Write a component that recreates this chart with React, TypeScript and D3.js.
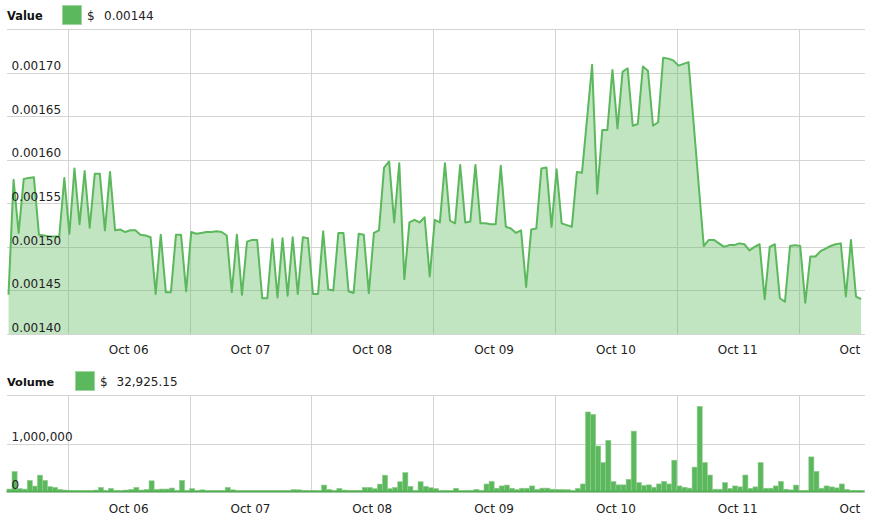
import React from "react";
import * as d3 from "d3";

// ---- data ----
const START_UTC = Date.UTC(2019, 9, 5, 0, 19);
const HOUR_MS = 3600000;

const priceValues = [
  0.001445, 0.001577, 0.001516, 0.001578, 0.001579, 0.00158, 0.001514, 0.001513, 0.001512, 0.001512,
  0.001512, 0.001579, 0.001515, 0.00159, 0.001526, 0.001587, 0.001522, 0.001584, 0.001584, 0.001519,
  0.001586, 0.001519, 0.00152, 0.001517, 0.001519, 0.001519, 0.001514, 0.001513, 0.001511, 0.001446,
  0.001514, 0.001448, 0.001448, 0.001514, 0.001514, 0.001449, 0.001517, 0.001515, 0.001516, 0.001517,
  0.001517, 0.001518, 0.001517, 0.001513, 0.001448, 0.001514, 0.001445, 0.001506, 0.001508, 0.001508,
  0.001441, 0.001441, 0.001509, 0.001442, 0.00151, 0.001444, 0.001511, 0.001446, 0.001511, 0.00151,
  0.001446, 0.001446, 0.001518, 0.001451, 0.00145, 0.001516, 0.001516, 0.001449, 0.001447, 0.001515,
  0.001514, 0.001447, 0.001516, 0.001519, 0.001591, 0.001598, 0.001528, 0.001596, 0.001463, 0.001528,
  0.001531, 0.001528, 0.001534, 0.001466, 0.001531, 0.001528, 0.001596, 0.00153, 0.001527, 0.001594,
  0.001528, 0.001529, 0.001594, 0.001527, 0.001527, 0.001526, 0.001526, 0.001593, 0.001523, 0.001521,
  0.001516, 0.001519, 0.001454, 0.00152, 0.001521, 0.00159, 0.001591, 0.001523, 0.001589, 0.001527,
  0.001525, 0.001523, 0.001586, 0.001585, 0.001647, 0.001709, 0.001561, 0.001634, 0.001634, 0.001703,
  0.001636, 0.001701, 0.001705, 0.001639, 0.001641, 0.001707, 0.001702, 0.001639, 0.001643, 0.001717,
  0.001716, 0.001714, 0.001708, 0.00171, 0.001712, 0.001642, 0.001571, 0.001501, 0.001508, 0.001508,
  0.001504, 0.0015, 0.001502, 0.001502, 0.001504, 0.001503, 0.001496, 0.0015, 0.001503, 0.00144,
  0.0015, 0.001503, 0.001441, 0.001437, 0.001501, 0.001502, 0.001501, 0.001436, 0.001489, 0.001489,
  0.001495, 0.001498, 0.001501, 0.001503, 0.001504, 0.001443, 0.001508, 0.001443, 0.00144,
];

const volumeValues = [
  61000, 422000, 70000, 60000, 239000, 122000, 347000, 239000, 109000, 95000,
  54000, 40000, 35000, 25000, 10000, 30000, 30000, 40000, 95000, 10000,
  75000, 10000, 15000, 40000, 54000, 95000, 40000, 54000, 231000, 54000,
  61000, 61000, 82000, 10000, 239000, 15000, 70000, 10000, 45000, 30000,
  30000, 30000, 15000, 95000, 45000, 15000, 10000, 12000, 10000, 8000,
  10000, 15000, 30000, 30000, 30000, 30000, 50000, 45000, 35000, 30000,
  35000, 30000, 143000, 54000, 20000, 75000, 40000, 35000, 35000, 35000,
  95000, 95000, 68000, 163000, 347000, 68000, 95000, 211000, 401000, 116000,
  10000, 211000, 116000, 88000, 70000, 30000, 20000, 5000, 78000, 30000,
  30000, 34000, 54000, 25000, 165000, 218000, 78000, 125000, 143000, 78000,
  50000, 78000, 78000, 125000, 54000, 80000, 80000, 58000, 55000, 52000,
  48000, 12000, 75000, 166000, 1650000, 1600000, 948000, 608000, 1065000, 215000,
  147000, 147000, 262000, 1255000, 194000, 136000, 147000, 98000, 166000, 218000,
  166000, 656000, 125000, 98000, 80000, 513000, 1765000, 608000, 350000, 58000,
  58000, 194000, 75000, 125000, 105000, 350000, 75000, 105000, 608000, 78000,
  78000, 125000, 218000, 58000, 44000, 143000, 27000, 27000, 724000, 425000,
  78000, 125000, 105000, 85000, 166000, 54000, 31000, 31000, 32925.15,
];

const priceTicks = [0.0014, 0.00145, 0.0015, 0.00155, 0.0016, 0.00165, 0.0017, 0.00175];
const priceLabelTicks = [0.0014, 0.00145, 0.0015, 0.00155, 0.0016, 0.00165, 0.0017];
const volumeTicks = [0, 1000000, 2000000];
const volumeLabelTicks = [0, 1000000];
const dayLabelDates = [6, 7, 8, 9, 10, 11, 12].map((d) => new Date(Date.UTC(2019, 9, d)));
const dayGridDates = [5, 6, 7, 8, 9, 10, 11].map((d) => new Date(Date.UTC(2019, 9, d, 12)));

const priceLegend = "0.00144";
const volumeLegend = "32,925.15";

// ---- styling ----
const GREEN = "#5cb85c";
const GRID = "#d4d4d4";
const TEXT = "#222";
const FONT = "DejaVu Sans, Verdana, sans-serif";

export default function App() {
  const times = priceValues.map((_, i) => new Date(START_UTC + i * HOUR_MS));
  const x = d3
    .scaleUtc()
    .domain([times[0], times[times.length - 1]])
    .range([8.5, 861.1]);
  const hourPx = x(new Date(START_UTC + HOUR_MS)) - x(times[0]);

  const yP = d3.scaleLinear().domain([0.0014, 0.00175]).range([334, 29]);
  const yV = d3.scaleLinear().domain([0, 2000000]).range([492, 395]);

  const line = d3
    .line<number>()
    .x((_, i) => x(times[i]))
    .y((d) => yP(d));
  const area = d3
    .area<number>()
    .x((_, i) => x(times[i]))
    .y0(yP(0.0014))
    .y1((d) => yP(d));

  const fmtDay = d3.utcFormat("%b %d");
  const fmtP = d3.format(".5f");
  const fmtV = d3.format(",");
  const crisp = (v: number) => Math.round(v) + 0.5;

  const gridLeft = 7;
  const gridRight = 865;

  return (
    <svg
      width={875}
      height={520}
      style={{ position: "absolute", left: 0, top: 0, background: "#fff" }}
      fontFamily={FONT}
    >
      <defs>
        <clipPath id="plotClip">
          <rect x={7} y={28} width={856} height={310} />
        </clipPath>
        <clipPath id="labelClip">
          <rect x={0} y={0} width={862} height={520} />
        </clipPath>
      </defs>

      {/* ===== Value header ===== */}
      <text x={7} y={20} fontSize={11.4} fontWeight="bold" fill="#111">
        Value
      </text>
      <rect x={62.5} y={5.5} width={19} height={19} fill={GREEN} stroke="#9fd59f" strokeWidth={1} />
      <text x={87} y={20} fontSize={12} fill={TEXT}>
        $
      </text>
      <text x={104} y={20} fontSize={12} fill={TEXT}>
        {priceLegend}
      </text>

      {/* price grid */}
      {priceTicks.map((t) => (
        <line key={"hp" + t} x1={gridLeft} x2={gridRight} y1={crisp(yP(t))} y2={crisp(yP(t))} stroke={GRID} />
      ))}
      {dayGridDates.map((d) => (
        <line key={"vp" + d.getTime()} x1={crisp(x(d))} x2={crisp(x(d))} y1={29} y2={334} stroke={GRID} />
      ))}

      {/* price area + line */}
      <g clipPath="url(#plotClip)">
        <path d={area(priceValues) || ""} fill={GREEN} fillOpacity={0.38} />
        <path d={line(priceValues) || ""} fill="none" stroke={GREEN} strokeWidth={2} strokeLinejoin="round" />
      </g>

      {/* price y labels */}
      {priceLabelTicks.map((t) => (
        <text key={"lp" + t} x={11.5} y={yP(t) - 2.3} fontSize={12} fill={TEXT}>
          {fmtP(t)}
        </text>
      ))}

      {/* price x labels */}
      <g clipPath="url(#labelClip)">
        {dayLabelDates.map((d) => (
          <text key={"xp" + d.getTime()} x={x(d)} y={354.3} fontSize={12} fill={TEXT} textAnchor="middle">
            {fmtDay(d)}
          </text>
        ))}
      </g>

      {/* ===== Volume header ===== */}
      <text x={7} y={386} fontSize={11.3} fontWeight="bold" fill="#111">
        Volume
      </text>
      <rect x={75.5} y={371.5} width={19} height={19} fill={GREEN} stroke="#9fd59f" strokeWidth={1} />
      <text x={100} y={386} fontSize={12} fill={TEXT}>
        $
      </text>
      <text x={116.5} y={386} fontSize={12} fill={TEXT}>
        {volumeLegend}
      </text>

      {/* volume grid */}
      {volumeTicks.map((t) => (
        <line key={"hv" + t} x1={gridLeft} x2={gridRight} y1={crisp(yV(t))} y2={crisp(yV(t))} stroke={GRID} />
      ))}
      {dayGridDates.map((d) => (
        <line key={"vv" + d.getTime()} x1={crisp(x(d))} x2={crisp(x(d))} y1={395} y2={492} stroke={GRID} />
      ))}

      {/* volume bars */}
      <g>
        {volumeValues.map((v, i) => {
          const cx = x(times[i]) + 1;
          const top = Math.min(yV(v), yV(0) - 1.5);
          return (
            <rect
              key={"b" + i}
              x={cx - hourPx / 2}
              y={top}
              width={hourPx}
              height={yV(0) - top}
              fill={GREEN}
              stroke="#8fcd8f"
              strokeWidth={0.6}
            />
          );
        })}
        <line x1={6.5} x2={863.5} y1={491.5} y2={491.5} stroke="#4fae4f" strokeWidth={1.5} />
      </g>

      {/* volume y labels */}
      {volumeLabelTicks.map((t) => (
        <text key={"lv" + t} x={11.5} y={yV(t) - 2.6} fontSize={12} fill={TEXT}>
          {fmtV(t)}
        </text>
      ))}

      {/* volume x labels */}
      <g clipPath="url(#labelClip)">
        {dayLabelDates.map((d) => (
          <text key={"xv" + d.getTime()} x={x(d)} y={512.5} fontSize={12} fill={TEXT} textAnchor="middle">
            {fmtDay(d)}
          </text>
        ))}
      </g>
    </svg>
  );
}
